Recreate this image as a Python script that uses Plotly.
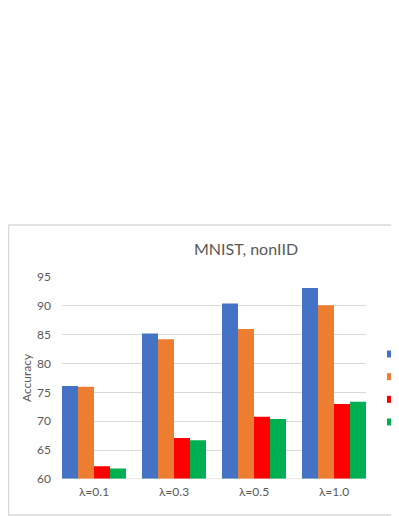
import plotly.graph_objects as go

categories = ['λ=0.1', 'λ=0.3', 'λ=0.5', 'λ=1.0']
series_names = ['Proposed', 'FedProx', 'FedAvg', 'Local']
series_colors = ['#4472C4', '#ED7D31', '#FF0000', '#00B050']
values_a = [76.1, 85.2, 90.4, 93.1]
values_b = [76.0, 84.2, 86.0, 90.1]
values_c = [62.2, 67.1, 70.8, 73.0]
values_d = [61.8, 66.7, 70.4, 73.4]
y_ticks = [60, 65, 70, 75, 80, 85, 90, 95]

TEXT = '#595959'
FONT = 'Lato, Noto Sans, sans-serif'

fig = go.Figure()
for name, color, vals in zip(series_names, series_colors,
                             [values_a, values_b, values_c, values_d]):
    fig.add_trace(go.Bar(
        x=categories, y=vals, name=name,
        marker={'color': color, 'line': {'width': 0}},
        showlegend=False,
    ))

# legend drawn by hand: small squares + names, cut by the right edge like the original
shapes = [
    # chart frame
    {'type': 'rect', 'xref': 'paper', 'yref': 'paper',
     'x0': -0.176, 'x1': 1.3, 'y0': -0.178, 'y1': 1.257,
     'line': {'color': '#D9D9D9', 'width': 1.5}, 'layer': 'below'},
    # baseline
    {'type': 'line', 'xref': 'paper', 'yref': 'y',
     'x0': 0, 'x1': 1, 'y0': 60, 'y1': 60,
     'line': {'color': '#D9D9D9', 'width': 1}},
]
annotations = []
for i, (name, color) in enumerate(zip(series_names, series_colors)):
    yc = 0.6188 - i * 0.1122
    shapes.append({'type': 'rect', 'xref': 'paper', 'yref': 'paper',
                   'x0': 1.0691, 'x1': 1.0921, 'y0': yc - 0.0173, 'y1': yc + 0.0173,
                   'fillcolor': color, 'line': {'width': 0}})
    annotations.append({'text': name, 'xref': 'paper', 'yref': 'paper',
                        'x': 1.101, 'y': yc, 'xanchor': 'left', 'yanchor': 'middle',
                        'showarrow': False, 'font': {'size': 12, 'color': TEXT}})

# page body has an 8px margin, so the figure is 8px smaller than the window
fig.update_layout(
    width=391, height=508,
    margin={'l': 54, 'r': 33, 't': 269, 'b': 37, 'autoexpand': False},
    paper_bgcolor='white', plot_bgcolor='white',
    font={'family': FONT, 'color': TEXT, 'size': 12},
    barmode='group', bargap=0.2, bargroupgap=0,
    showlegend=False,
    title={
        'text': 'MNIST, nonIID',
        'x': 0.6087, 'xref': 'container', 'xanchor': 'center',
        'y': 0.5256, 'yref': 'container', 'yanchor': 'middle',
        'font': {'size': 16, 'color': TEXT, 'family': FONT},
    },
    xaxis={
        'type': 'category', 'range': [-0.4, 3.4],
        'showgrid': False, 'ticks': '', 'showline': False,
        'ticklabelstandoff': 4,
        'tickfont': {'size': 12, 'color': TEXT},
        'automargin': False,
    },
    yaxis={
        'range': [60, 95], 'tickvals': y_ticks,
        'showgrid': True, 'gridcolor': '#D9D9D9', 'gridwidth': 1,
        'zeroline': False, 'showline': False, 'ticks': '',
        'ticklabelstandoff': 10,
        'tickfont': {'size': 12, 'color': TEXT},
        'title': {'text': 'Accuracy', 'font': {'size': 12, 'color': TEXT},
                  'standoff': 2},
        'automargin': False,
    },
    shapes=shapes,
    annotations=annotations,
)

fig.write_html('out.html')
